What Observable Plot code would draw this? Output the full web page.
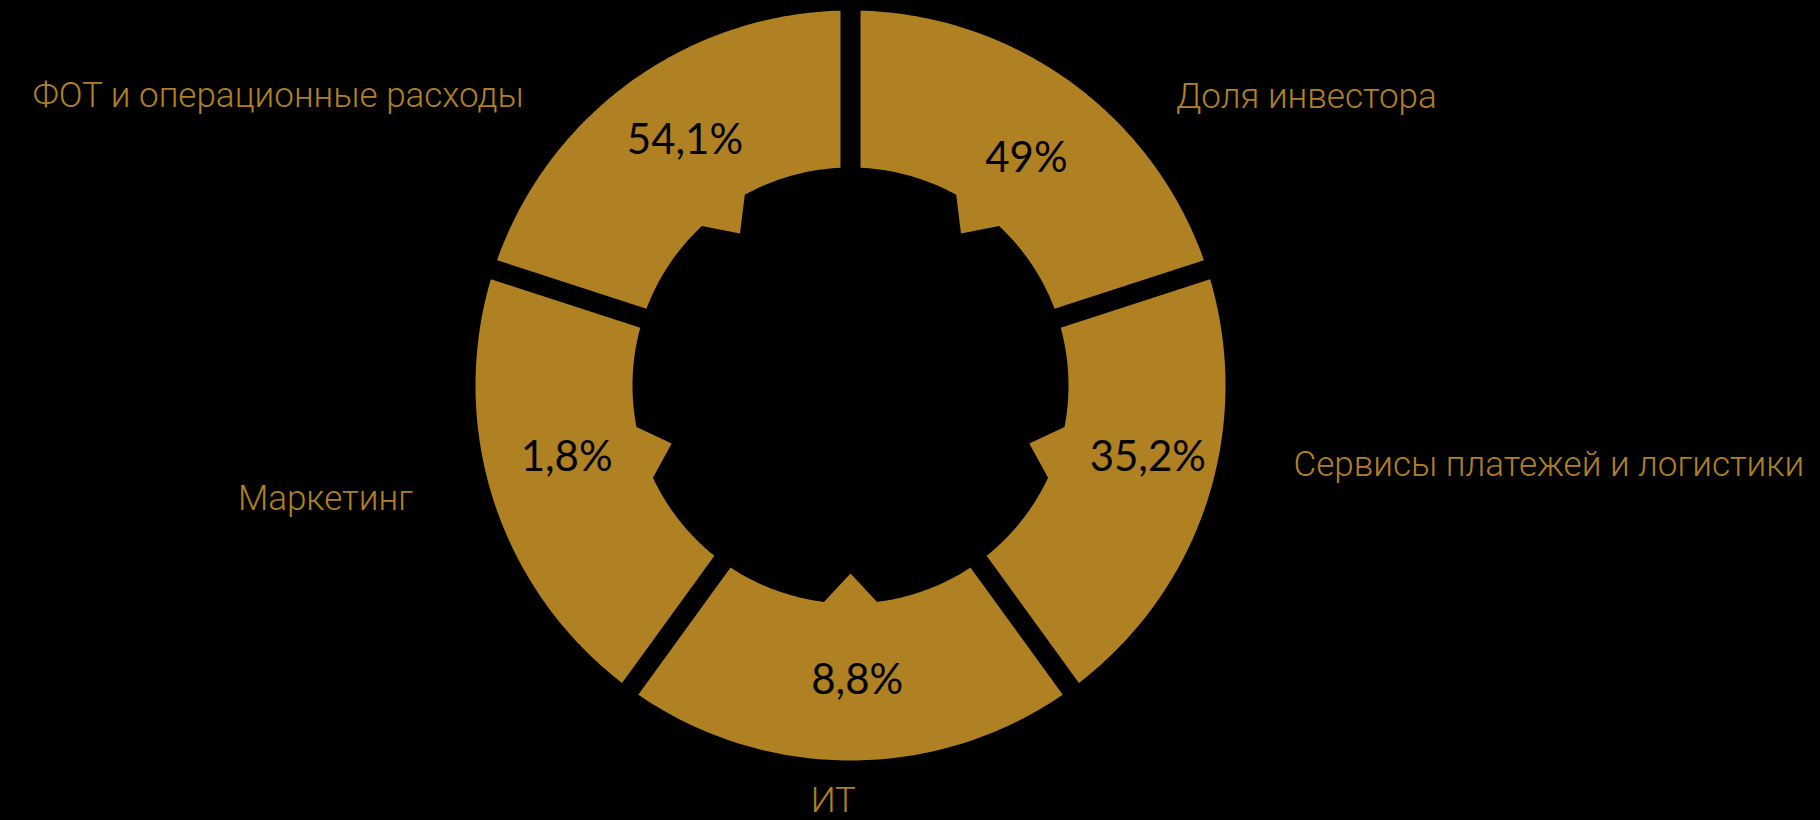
<!DOCTYPE html>
<html><head><meta charset="utf-8">
<script src="https://cdn.jsdelivr.net/npm/d3@7"></script>
<script src="https://cdn.jsdelivr.net/npm/@observablehq/plot@0.6"></script>
<style>html,body{margin:0;padding:0;background:#000;overflow:hidden;} #chart{width:1820px;height:820px;}</style>
</head><body><div id="chart"></div>
<script>
// ---- data ----
const categories = ["Доля инвестора", "Сервисы платежей и логистики", "ИТ", "Маркетинг", "ФОТ и операционные расходы"];
const shares = [1, 1, 1, 1, 1];               // the ring draws five equal slices
const valueLabels = ["49%", "35,2%", "8,8%", "1,8%", "54,1%"];

// ---- layout / style ----
const GOLD = "#B08123";
const R_OUT = 375, R_IN = 218, R_NOTCH = 188, NOTCH_HALF = 7 * Math.PI / 180, GAP = 10;
// value label placement (polar: angle in degrees clockwise from top, radius)
const valueLayout = [
  {angle: 37.8, r: 287},
  {angle: 103.7, r: 306},
  {angle: 178.7, r: 295},
  {angle: 255.7, r: 293},
  {angle: -34, r: 296}
];
// category label placement (polar baseline anchor), text anchor
const labelLayout = [
  {angle: 49.5, r: 428, anchor: "start"},
  {angle: 101.5, r: 452, anchor: "start"},
  {angle: 182.3, r: 427, anchor: "middle"},
  {angle: 254.1, r: 455, anchor: "end"},
  {angle: 310.4, r: 429, anchor: "end"}
];

const polar = (r, a) => [r * Math.sin(a), -r * Math.cos(a)];
const rad = (deg) => deg * Math.PI / 180;
const arcs = d3.pie().sort(null).startAngle(0).endAngle(2 * Math.PI)(shares);

const ringPts = [];
arcs.forEach((a, i) => {
  const mid = (a.startAngle + a.endAngle) / 2;
  const dO = Math.asin(GAP / R_OUT), dI = Math.asin(GAP / R_IN);
  const pts = [];
  const n = 80, m = 24;
  for (let k = 0; k <= n; k++) {
    const t = a.startAngle + dO + (a.endAngle - a.startAngle - 2 * dO) * k / n;
    pts.push(polar(R_OUT, t));
  }
  for (let k = 0; k <= m; k++) {
    const t = (a.endAngle - dI) + ((mid + NOTCH_HALF) - (a.endAngle - dI)) * k / m;
    pts.push(polar(R_IN, t));
  }
  pts.push(polar(R_NOTCH, mid));
  for (let k = 0; k <= m; k++) {
    const t = (mid - NOTCH_HALF) + ((a.startAngle + dI) - (mid - NOTCH_HALF)) * k / m;
    pts.push(polar(R_IN, t));
  }
  pts.push(pts[0]);
  pts.forEach(([x, y]) => ringPts.push({x, y, seg: categories[i]}));
});

const valueData = valueLabels.map((t, i) => {
  const [x, y] = polar(valueLayout[i].r, rad(valueLayout[i].angle));
  return {x, y, text: t};
});

const catData = categories.map((c, i) => {
  const L = labelLayout[i];
  const [x, y] = polar(L.r, rad(L.angle));
  return {x, y, text: c, anchor: L.anchor};
});

const catText = (anchor) => Plot.text(catData.filter(d => d.anchor === anchor), {
  x: "x", y: "y", text: "text", fill: GOLD, fontSize: 35, fontFamily: "Roboto", fontWeight: 300,
  textAnchor: anchor, lineAnchor: "bottom", letterSpacing: "-0.2px"
});

const chart = Plot.plot({
  width: 1820, height: 820, margin: 0,
  x: {domain: [-850, 970], range: [0, 1820], axis: null},
  y: {domain: [-385, 435], range: [0, 820], axis: null},
  style: {background: "#000", overflow: "visible"},
  marks: [
    Plot.line(ringPts, {x: "x", y: "y", z: "seg", fill: GOLD, stroke: "none", curve: "linear"}),
    Plot.text(valueData, {x: "x", y: "y", text: "text", fill: "#000", fontSize: 42, fontFamily: "Lato"}),
    catText("start"), catText("middle"), catText("end")
  ]
});
document.getElementById("chart").appendChild(chart);
</script>
</body></html>
